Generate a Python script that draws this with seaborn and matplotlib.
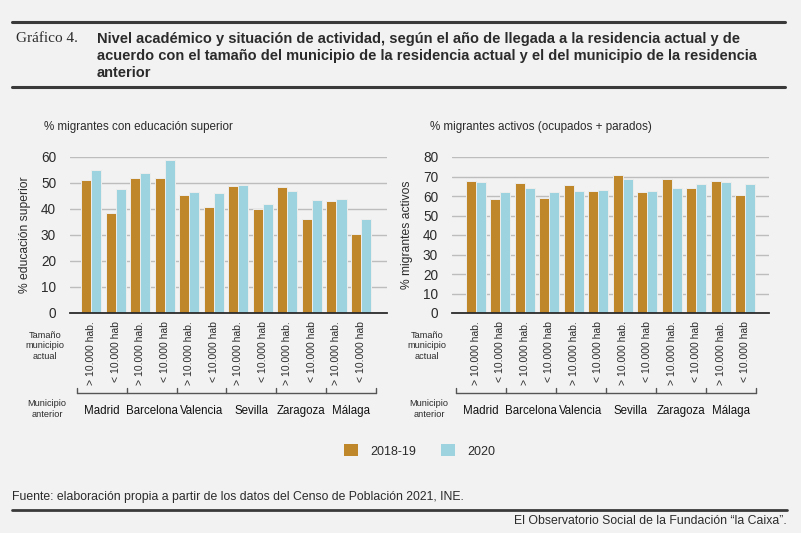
import matplotlib
matplotlib.use("Agg")
import matplotlib.pyplot as plt
import seaborn as sns
import pandas as pd
from matplotlib.lines import Line2D
from matplotlib.patches import Patch

# ---------------- data ----------------
cities = ["Madrid", "Barcelona", "Valencia", "Sevilla", "Zaragoza", "Málaga"]
sizes = ["> 10.000 hab.", "< 10.000 hab"]
years = ["2018-19", "2020"]

edu_2018 = [51.2, 38.4, 51.9, 52.0, 45.4, 40.7, 48.8, 40.0, 48.3, 36.2, 43.1, 30.5]
edu_2020 = [55.0, 47.6, 53.9, 59.0, 46.7, 46.2, 49.3, 41.8, 47.0, 43.3, 43.8, 36.3]
act_2018 = [67.8, 58.5, 66.6, 59.1, 65.4, 62.7, 70.9, 62.3, 68.5, 64.2, 67.8, 60.6]
act_2020 = [67.0, 62.3, 63.9, 62.1, 62.5, 63.3, 68.8, 62.8, 64.2, 66.4, 67.3, 66.1]

edu_ticks = [0, 10, 20, 30, 40, 50, 60]
act_ticks = [0, 10, 20, 30, 40, 50, 60, 70, 80]

keys = [f"{c}|{s}" for c in cities for s in sizes]
tick_labels = [s for c in cities for s in sizes]


def long_df(v18, v20):
    rows = []
    for k, a, b in zip(keys, v18, v20):
        rows.append({"grp": k, "year": years[0], "val": a})
        rows.append({"grp": k, "year": years[1], "val": b})
    return pd.DataFrame(rows)


df_edu = long_df(edu_2018, edu_2020)
df_act = long_df(act_2018, act_2020)

# ---------------- style ----------------
BG = "#F2F2F2"
ORANGE = "#C0862A"
BLUE = "#9CD3DE"
DARK = "#2B2B2B"
GRID = "#BDBDBD"

sns.set_style("white")
plt.rcParams["font.family"] = ["Liberation Sans", "DejaVu Sans"]
plt.rcParams["figure.facecolor"] = BG
plt.rcParams["axes.facecolor"] = BG
plt.rcParams["savefig.facecolor"] = BG
NARROW = ["Liberation Sans", "DejaVu Sans"]

W, H = 801, 533
fig = plt.figure(figsize=(W / 100, H / 100), dpi=100)


def fx(px):
    return px / W


def fy(py):
    return 1 - py / H


def make_panel(rect, df, ticks, xlim, ylabel, subtitle, sub_x, ylab_x,
               br_x0, br_dx, lab_x):
    ax = fig.add_axes(rect)
    sns.barplot(data=df, x="grp", y="val", hue="year", order=keys,
                hue_order=years, palette=[ORANGE, BLUE], width=0.82,
                saturation=1, edgecolor="#EDEDED", linewidth=0.7,
                legend=False, ax=ax, errorbar=None)
    ax.set_axisbelow(True)
    ax.set_ylim(ticks[0], ticks[-1])
    ax.set_yticks(ticks)
    ax.set_yticklabels([str(t) for t in ticks], fontsize=9.8, color=DARK)
    ax.set_xlim(*xlim)
    ax.set_xticks(range(len(keys)))
    ax.set_xticklabels(tick_labels, rotation=90, fontsize=7.5, color=DARK,
                       va="top", ha="center")
    ax.tick_params(axis="both", length=0)
    ax.tick_params(axis="y", pad=10)
    ax.tick_params(axis="x", pad=6)
    ax.yaxis.grid(True, color=GRID, lw=1.0)
    ax.xaxis.grid(False)
    for s in ["top", "right", "left"]:
        ax.spines[s].set_visible(False)
    ax.spines["bottom"].set_color(DARK)
    ax.spines["bottom"].set_linewidth(1.3)
    ax.set_xlabel("")
    ax.set_ylabel("")
    fig.text(fx(ylab_x), fy(235), ylabel, rotation=90, ha="center",
             va="center", fontsize=8.7, color=DARK)
    fig.text(fx(sub_x), fy(127), subtitle, ha="left", va="center",
             fontsize=8.4, color=DARK)
    # brackets under groups
    tr = ax.transAxes
    yb = -0.513
    yt = -0.48
    xs = [br_x0 + i * br_dx for i in range(len(cities) + 1)]
    ax.add_line(Line2D([xs[0], xs[-1]], [yb, yb], transform=tr, color="#555555",
                       lw=1.0, clip_on=False))
    for x in xs:
        ax.add_line(Line2D([x, x], [yb, yt], transform=tr, color="#555555",
                           lw=1.0, clip_on=False))
    for i, c in enumerate(cities):
        xc = (xs[i] + xs[i + 1]) / 2
        ax.text(xc, -0.63, c, transform=tr, ha="center", va="center",
                fontsize=8.3, color="#111111")
    fig.text(fx(lab_x), fy(346), "Tamaño\nmunicipio\nactual", ha="center",
             va="center", fontsize=6.6, color=DARK, linespacing=1.15)
    fig.text(fx(lab_x + 2), fy(409), "Municipio\nanterior", ha="center",
             va="center", fontsize=6.6, color=DARK, linespacing=1.15)
    return ax


ax_top, ax_bot = fy(157), fy(313)
make_panel([fx(70), ax_bot, fx(317), ax_top - ax_bot], df_edu, edu_ticks,
           (-0.86, 12.06), "% educación superior",
           "% migrantes con educación superior", 44, 25,
           (76.7 - 70) / 317, 49.9 / 317, 45)
make_panel([fx(452), ax_bot, fx(317), ax_top - ax_bot], df_act, act_ticks,
           (-0.98, 11.98), "% migrantes activos",
           "% migrantes activos (ocupados + parados)", 430, 407,
           (455.7 - 452) / 317, 50.0 / 317, 427)

# ---------------- header ----------------
fig.add_artist(Line2D([fx(12), fx(785)], [fy(22), fy(22)], color="#3A3A3A",
                      lw=2.2))
fig.add_artist(Line2D([fx(12), fx(785)], [fy(87), fy(87)], color="#3A3A3A",
                      lw=2.2))
fig.text(fx(16), fy(39), "Gráfico 4.", ha="left", va="center",
         fontsize=11, color=DARK, family=["Liberation Serif", "DejaVu Serif"])
title_lines = [
    "Nivel académico y situación de actividad, según el año de llegada a la residencia actual y de",
    "acuerdo con el tamaño del municipio de la residencia actual y el del municipio de la residencia",
    "anterior",
]
for i, line in enumerate(title_lines):
    fig.text(fx(97), fy(39 + 17 * i), line, ha="left", va="center",
             fontsize=10.5, fontweight="bold", color=DARK, family=NARROW)

# ---------------- legend ----------------
handles = [Patch(facecolor=ORANGE, edgecolor="none", label=years[0]),
           Patch(facecolor=BLUE, edgecolor="none", label=years[1])]
fig.legend(handles=handles, loc="center", bbox_to_anchor=(fx(420), fy(451)),
           ncol=2, frameon=False, fontsize=9, handlelength=1.1,
           handleheight=1.1, handletextpad=1.0, columnspacing=2.0,
           labelcolor=DARK)

# ---------------- footer ----------------
fig.text(fx(12), fy(497), "Fuente: elaboración propia a partir de los datos del Censo de Población 2021, INE.",
         ha="left", va="center", fontsize=8.8, color=DARK, family=NARROW)
fig.add_artist(Line2D([fx(12), fx(787)], [fy(510), fy(510)], color="#3A3A3A",
                      lw=2.0))
fig.text(fx(787), fy(521), "El Observatorio Social de la Fundación “la Caixa”.",
         ha="right", va="center", fontsize=8.8, color=DARK, family=NARROW)

fig.savefig("out.png", dpi=100, facecolor=BG)
